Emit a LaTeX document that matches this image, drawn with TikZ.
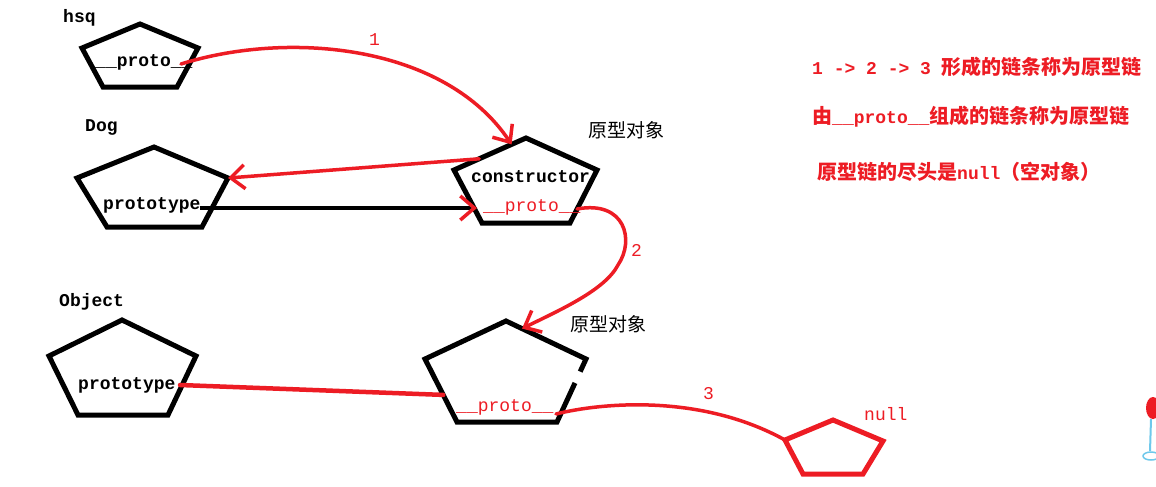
\documentclass[tikz,border=0pt]{standalone}
\usepackage{fontspec}
\setmonofont{Liberation Mono}
\newfontfamily\cjk{Noto Sans CJK SC}
\usetikzlibrary{arrows.meta,calc}
\definecolor{pred}{RGB}{237,28,36}
\definecolor{iconblue}{RGB}{110,200,235}
\begin{document}
\begin{tikzpicture}[x=1pt,y=-1pt,
  pent/.style={line width=5pt,line join=miter},
  redline/.style={pred,line width=3.5pt,line cap=round},
  arr/.style={-{Straight Barb[length=14pt,width=24pt]}},
  lbl/.style={inner sep=0pt,anchor=west,font=\fontsize{18}{20}\selectfont\ttfamily\bfseries},
  redlbl/.style={inner sep=0pt,anchor=west,text=pred,font=\fontsize{18}{20}\selectfont\ttfamily},
  cn/.style={inner sep=0pt,anchor=west,font=\fontsize{19}{22}\selectfont\cjk},
  note/.style={inner sep=0pt,anchor=west,text=pred,font=\fontsize{18}{20}\selectfont\ttfamily\bfseries}
]
\fill[white] (0,0) rectangle (1156,487);
\useasboundingbox (0,0) rectangle (1156,487);

% hsq
\coordinate (hT) at (140,24); \coordinate (hL) at (82,48); \coordinate (hR) at (198,48);
\coordinate (hBL) at (103,87); \coordinate (hBR) at (177,87);
\draw[pent] (hT) -- (hR) -- (hBR) -- (hBL) -- (hL) -- cycle;
\node[lbl] (hsq) at (63,18) {hsq};
\node[lbl] (hsqp) at (95,62) {\_\_proto\_\_};

% Dog
\coordinate (dT) at (154,147); \coordinate (dL) at (77,178); \coordinate (dR) at (228,178);
\coordinate (dBL) at (107,227); \coordinate (dBR) at (202,227);
\draw[pent] (dT) -- (dR) -- (dBR) -- (dBL) -- (dL) -- cycle;
\node[lbl] (dog) at (85,127) {Dog};
\node[lbl] (dogp) at (103,205) {prototype};

% constructor object
\coordinate (cT) at (526,138); \coordinate (cL) at (454,170); \coordinate (cR) at (597,170);
\coordinate (cBL) at (482,223); \coordinate (cBR) at (570,223);
\draw[pent] (cT) -- (cR) -- (cBR) -- (cBL) -- (cL) -- cycle;
\node[lbl] (cons) at (471,177) {constructor};
\node[redlbl] (cproto) at (483,207) {\_\_proto\_\_};
\node[cn] (po1) at (588,130) {原型对象};

% Object
\coordinate (oT) at (122,320); \coordinate (oL) at (49,356); \coordinate (oR) at (196,356);
\coordinate (oBL) at (78,415); \coordinate (oBR) at (168,415);
\draw[pent] (oT) -- (oR) -- (oBR) -- (oBL) -- (oL) -- cycle;
\node[lbl] (obj) at (59,302) {Object};
\node[lbl] (objp) at (78,385) {prototype};

% second prototype object
\coordinate (sT) at (506,321); \coordinate (sL) at (425,359); \coordinate (sR) at (586,359);
\coordinate (sBL) at (457,422); \coordinate (sBR) at (557,422);
\draw[pent] ($(sR)!0.38!(sBR)$) -- (sBR) -- (sBL) -- (sL) -- (sT) -- (sR) -- ($(sR)!0.2!(sBR)$);
\node[redlbl] (sproto) at (456,407) {\_\_proto\_\_};
\node[cn] (po2) at (570,324) {原型对象};

% null
\coordinate (nT) at (833,420); \coordinate (nL) at (785,440); \coordinate (nR) at (883,441);
\coordinate (nBL) at (803,474); \coordinate (nBR) at (863,474);
\draw[pent,pred] (nT) -- (nR) -- (nBR) -- (nBL) -- (nL) -- cycle;
\node[redlbl] (null) at (864,414) {null};

% connector end points
\coordinate (h1) at (181,64);
\coordinate (c1) at ($(cT)!0.2!(cL)$);
\coordinate (cin) at ($(cT)!0.65!(cL)$);
\coordinate (d1) at (200,208);
\coordinate (cpin) at (477,208);
\coordinate (c2) at (577,209);
\coordinate (s1) at ($(sT)!0.2!(sR)$);
\coordinate (o1) at (180,385);
\coordinate (sin) at ($(sL)!0.57!(sBL)$);
\coordinate (s2) at (556,414);

% connectors
\draw[redline,arr] (h1) .. controls (290,30) and (445,45) .. (c1);
\node[redlbl] (n1) at (369,40) {1};
\draw[redline,arr] (cin) -- (dR);
\draw[line width=4pt,-{Straight Barb[length=14pt,width=24pt,color=pred,line width=3.5pt]}] (d1) -- (cpin);
\draw[redline,arr] (c2) .. controls (625,200) and (635,240) .. (618,265) .. controls (605,290) and (560,310) .. (s1);
\node[redlbl] (n2) at (631,250) {2};
\draw[redline,line width=4.5pt] (o1) -- (sin);
\draw[redline] (s2) .. controls (600,403) and (700,393) .. (nL);
\node[redlbl] (n3) at (703,394) {3};

% notes
\node[note] (t1) at (812,67) {1 -> 2 -> 3 {\fontsize{20}{22}\selectfont\cjk\bfseries 形成的链条称为原型链}};
\node[note] (t2) at (812,117) {{\fontsize{20}{22}\selectfont\cjk\bfseries 由}\_\_proto\_\_{\fontsize{20}{22}\selectfont\cjk\bfseries 组成的链条称为原型链}};
\node[note] (t3) at (817,172) {{\fontsize{20}{22}\selectfont\cjk\bfseries 原型链的尽头是}null{\fontsize{20}{22}\selectfont\cjk\bfseries （空对象）}};

% small icon at the right edge
\fill[pred] (1153,408) ellipse [x radius=7pt, y radius=11pt];
\draw[iconblue,line width=2pt] (1151,419) -- (1150,451);
\draw[iconblue,line width=1.5pt] (1151,456) ellipse [x radius=8pt, y radius=4pt];
\end{tikzpicture}
\end{document}
